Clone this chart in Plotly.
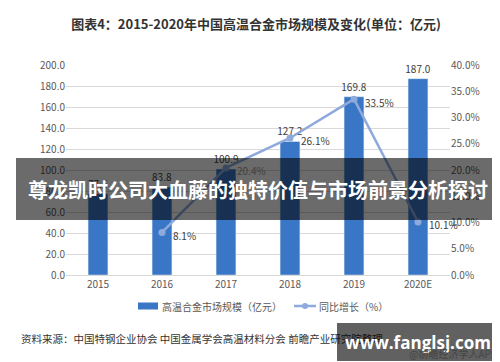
import plotly.graph_objects as go

years = ["2015", "2016", "2017", "2018", "2019", "2020E"]
market_size = [77.5, 83.8, 100.9, 127.2, 169.8, 187.0]
yoy_growth = [None, 8.1, 20.4, 26.1, 33.5, 10.1]

title_text = "图表4：2015-2020年中国高温合金市场规模及变化(单位：亿元)"
legend_bar = "高温合金市场规模（亿元）"
legend_line = "同比增长（%）"
source_text = "资料来源：中国特钢企业协会 中国金属学会高温材料分会 前瞻产业研究院整理"
credit_text = "@前瞻经济学人APP"
banner_text = "尊龙凯时公司大血藤的独特价值与市场前景分析探讨"
site_text = "www.fanglsj.com"

W, H = 500, 362
ML, MR, MT, MB = 58, 58, 57, 95
PW, PH = W - ML - MR, H - MT - MB


def px(x):
    return (x - ML) / PW


def py(y):
    return (H - MB - y) / PH


FONT = "Noto Sans CJK SC, Microsoft YaHei, sans-serif"
BAR_COLOR = "#3a76c6"
LINE_COLOR = "#8eaadc"
TICK_COLOR = "#595959"

fig = go.Figure()
fig.add_trace(go.Bar(
    x=years, y=market_size, width=0.31, marker_color=BAR_COLOR,
    texttemplate="%{y:.1f}", textposition="outside", constraintext="none",
    textfont=dict(size=10, color="#404040"), cliponaxis=False,
    showlegend=False, yaxis="y"))
fig.add_trace(go.Scatter(
    x=years, y=yoy_growth, mode="lines+markers", yaxis="y2",
    line=dict(color=LINE_COLOR, width=2.5),
    marker=dict(color=LINE_COLOR, size=7),
    cliponaxis=False, showlegend=False))

annotations = []
for i, v in enumerate(yoy_growth):
    if v is None:
        continue
    annotations.append(dict(text=f"{v:.1f}%", x=i, y=v, xref="x", yref="y2",
                            xanchor="left", yanchor="middle", xshift=9, yshift=-3,
                            showarrow=False, font=dict(size=10, color="#404040", family=FONT)))
annotations.append(dict(text=source_text, xref="paper", yref="paper",
                        x=px(11), y=py(330), xanchor="left", yanchor="middle",
                        showarrow=False, font=dict(size=10.5, color="#333333", family=FONT)))
annotations.append(dict(text=legend_bar, xref="paper", yref="paper",
                        x=px(152), y=py(298), xanchor="left", yanchor="middle",
                        showarrow=False, font=dict(size=10, color=TICK_COLOR, family=FONT)))
annotations.append(dict(text=legend_line, xref="paper", yref="paper",
                        x=px(309), y=py(298), xanchor="left", yanchor="middle",
                        showarrow=False, font=dict(size=10, color=TICK_COLOR, family=FONT)))
annotations.append(dict(text="<b>" + banner_text + "</b>", xref="paper", yref="paper",
                        x=px(250), y=py(181), xanchor="center", yanchor="middle",
                        showarrow=False,
                        font=dict(size=20, color="white", family=FONT)))
annotations.append(dict(text="<b>" + site_text + "</b>", xref="paper", yref="paper",
                        x=px(410), y=py(334), xanchor="center", yanchor="middle",
                        width=162, height=38, bgcolor="rgba(0,0,0,0.62)",
                        borderpad=0, borderwidth=0, showarrow=False,
                        font=dict(size=17, color="white", family="Open Sans, sans-serif")))
annotations.append(dict(text=credit_text, xref="paper", yref="paper",
                        x=px(491), y=py(345), xanchor="right", yanchor="middle",
                        showarrow=False, font=dict(size=10, color="#444444", family=FONT)))

shapes = [
    dict(type="rect", xref="paper", yref="paper", x0=px(130), x1=px(150),
         y0=py(301.5), y1=py(294.5), fillcolor=BAR_COLOR, line=dict(width=0)),
    dict(type="line", xref="paper", yref="paper", x0=px(286), x1=px(308),
         y0=py(298), y1=py(298), line=dict(color=LINE_COLOR, width=2.5)),
    dict(type="circle", xref="paper", yref="paper", x0=px(294), x1=px(300),
         y0=py(301), y1=py(295), fillcolor=LINE_COLOR, line=dict(width=0)),
    dict(type="rect", xref="paper", yref="paper", layer="above",
         x0=px(8), x1=px(492), y0=py(212), y1=py(150),
         fillcolor="rgba(0,0,0,0.58)", line=dict(width=0)),
]

fig.update_layout(
    width=W, height=H, margin=dict(l=ML, r=MR, t=MT, b=MB),
    paper_bgcolor="white", plot_bgcolor="white",
    font=dict(family=FONT, color=TICK_COLOR, size=10),
    title=dict(text="<b>" + title_text + "</b>", x=0.496, xanchor="center",
               y=(H - 16) / H, yanchor="middle", yref="container",
               font=dict(size=13, color="#333333", family=FONT)),
    xaxis=dict(type="category", categoryorder="array", categoryarray=years,
               range=[-0.5, len(years) - 0.5],
               showgrid=False, showline=True, linecolor="#d9d9d9", ticks="",
               tickfont=dict(size=10, color=TICK_COLOR)),
    yaxis=dict(range=[0, 200], dtick=20, tickformat=".1f", gridcolor="#d9d9d9",
               zeroline=False, showline=False, ticks="",
               tickfont=dict(size=10, color=TICK_COLOR)),
    yaxis2=dict(range=[0, 40], dtick=5, tickformat=".1f", ticksuffix="%",
                overlaying="y", side="right", showgrid=False, zeroline=False,
                ticks="", tickfont=dict(size=10, color=TICK_COLOR)),
    annotations=annotations, shapes=shapes, showlegend=False,
)

fig.write_html("out.html")
